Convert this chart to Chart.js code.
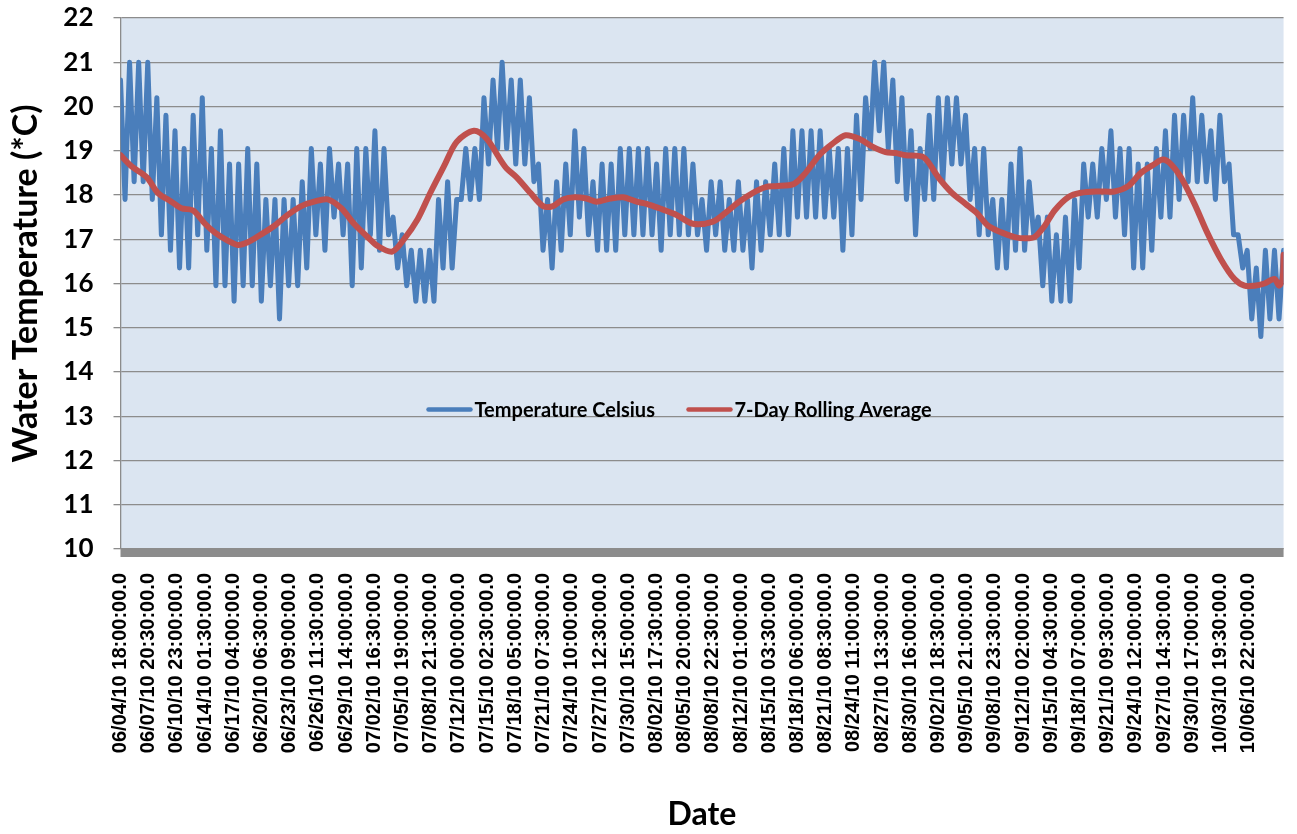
<!DOCTYPE html>
<html>
<head>
<meta charset="utf-8">
<script src="https://cdn.jsdelivr.net/npm/chart.js@4.4.1/dist/chart.umd.min.js"></script>
<style>
  html, body { margin: 0; padding: 0; background: #ffffff; }
  #wrap { width: 1297px; height: 834px; }
</style>
</head>
<body>
<div id="wrap"><canvas id="c" width="1297" height="834"></canvas></div>
<script>
// ---- Data ----
// Category tick labels, one every 74.5 hours starting 06/04/10 18:00
const dateLabels = [
  "06/04/10 18:00:00.0","06/07/10 20:30:00.0","06/10/10 23:00:00.0","06/14/10 01:30:00.0",
  "06/17/10 04:00:00.0","06/20/10 06:30:00.0","06/23/10 09:00:00.0","06/26/10 11:30:00.0",
  "06/29/10 14:00:00.0","07/02/10 16:30:00.0","07/05/10 19:00:00.0","07/08/10 21:30:00.0",
  "07/12/10 00:00:00.0","07/15/10 02:30:00.0","07/18/10 05:00:00.0","07/21/10 07:30:00.0",
  "07/24/10 10:00:00.0","07/27/10 12:30:00.0","07/30/10 15:00:00.0","08/02/10 17:30:00.0",
  "08/05/10 20:00:00.0","08/08/10 22:30:00.0","08/12/10 01:00:00.0","08/15/10 03:30:00.0",
  "08/18/10 06:00:00.0","08/21/10 08:30:00.0","08/24/10 11:00:00.0","08/27/10 13:30:00.0",
  "08/30/10 16:00:00.0","09/02/10 18:30:00.0","09/05/10 21:00:00.0","09/08/10 23:30:00.0",
  "09/12/10 02:00:00.0","09/15/10 04:30:00.0","09/18/10 07:00:00.0","09/21/10 09:30:00.0",
  "09/24/10 12:00:00.0","09/27/10 14:30:00.0","09/30/10 17:00:00.0","10/03/10 19:30:00.0",
  "10/06/10 22:00:00.0"
];
const labelStepHours = 74.5;
const totalHours = 3072;

// Evening (18:00) highs, one per day from 06/04/10
const dailyHighs = [
  20.6,21.0,21.0,21.0,20.2,19.8,19.45,19.05,19.8,20.2,
  19.05,19.45,18.7,18.7,19.05,18.7,17.9,17.9,17.9,17.9,
  18.3,19.05,18.7,19.05,18.7,18.7,19.05,19.05,19.45,19.05,
  17.5,17.1,16.75,16.75,16.75,17.9,18.3,17.9,19.05,19.05,
  20.2,20.6,21.0,20.6,20.6,20.2,18.7,17.9,18.3,18.7,
  19.45,19.05,18.3,18.7,18.7,19.05,19.05,19.05,19.05,18.7,
  19.05,19.05,19.05,18.7,17.9,18.3,18.3,17.9,18.3,17.9,
  18.3,18.3,18.7,19.05,19.45,19.45,19.45,19.45,19.05,19.05,
  19.05,19.8,20.2,21.0,21.0,20.6,20.2,19.45,19.05,19.8,
  20.2,20.2,20.2,19.8,19.05,19.05,17.9,17.9,18.7,19.05,
  18.3,17.5,17.5,17.1,17.5,17.9,18.7,18.7,19.05,19.45,
  19.05,19.05,18.7,18.7,19.05,19.45,19.8,19.8,20.2,19.8,
  19.45,19.8,18.7,17.1,16.75,16.35,16.75,16.75,16.75
];
// Morning (06:00) lows, one per day
const dailyLows = [
  17.9,18.3,18.3,17.9,17.1,16.75,16.35,16.35,17.1,16.75,
  15.95,15.95,15.6,15.95,15.95,15.6,15.95,15.2,15.95,15.95,
  16.35,17.1,16.75,17.5,17.1,15.95,16.35,17.1,16.75,17.1,
  16.35,15.95,15.6,15.6,15.6,16.35,16.35,17.9,17.9,17.9,
  18.7,19.05,19.05,18.7,18.7,18.3,16.75,16.35,16.75,17.1,
  17.5,17.1,16.75,16.75,16.75,17.1,17.1,17.1,17.1,16.75,
  17.1,17.1,17.1,17.1,16.75,17.1,16.75,16.75,16.75,16.35,
  16.75,17.1,17.1,17.1,17.5,17.5,17.5,17.5,17.5,16.75,
  17.1,17.9,19.05,19.45,19.05,18.3,17.9,17.1,17.9,17.9,
  18.3,18.7,18.7,17.9,17.1,17.1,16.35,16.35,16.75,16.75,
  17.1,15.95,15.6,15.6,15.6,16.35,17.5,17.5,17.9,17.5,
  17.1,16.35,16.35,16.75,17.5,17.5,17.9,18.3,18.3,18.3,
  17.9,18.3,17.1,16.35,15.2,14.8,15.2,15.2
];

// 7-day rolling average: sample day (from 06/04/10 18:00) and value
const avgDays = [
  0,1.2,2.9,4.1,5.6,6.7,8.0,9.3,10.4,11.8,12.9,14.0,15.4,16.9,18.4,19.9,21.3,22.8,24.3,25.7,
  27.2,28.3,29.9,31.2,32.7,34.1,35.6,37.0,38.9,40.3,41.8,42.5,43.6,45.1,46.5,47.6,48.7,50.0,51.3,52.4,
  53.9,55.3,56.8,57.9,59.3,61.2,63.0,65.2,66.6,68.1,69.6,71.0,72.1,74.1,75.4,76.9,78.3,79.8,81.3,82.7,
  84.2,85.3,86.4,88.4,90.0,91.5,93.0,94.2,95.5,97.0,98.4,99.5,100.6,101.7,102.8,104.3,105.7,107.6,109.4,110.9,
  112.3,113.8,114.7,115.6,116.7,118.2,119.6,121.1,122.6,123.7,124.8,125.9,127.0,127.5,127.9,128.0
];
const avgValues = [
  18.9,18.65,18.4,18.05,17.85,17.7,17.65,17.35,17.15,16.97,16.87,16.93,17.1,17.3,17.55,17.75,17.85,17.9,17.7,17.35,
  17.05,16.85,16.72,17.0,17.45,18.05,18.65,19.2,19.45,19.27,18.8,18.6,18.4,18.05,17.75,17.75,17.9,17.95,17.92,17.85,
  17.92,17.95,17.85,17.8,17.7,17.55,17.35,17.4,17.6,17.85,18.05,18.18,18.2,18.25,18.5,18.9,19.15,19.35,19.27,19.1,
  18.97,18.95,18.9,18.85,18.4,18.05,17.8,17.6,17.3,17.15,17.05,17.02,17.05,17.3,17.65,17.95,18.05,18.08,18.08,18.2,
  18.5,18.7,18.8,18.7,18.4,17.8,17.15,16.55,16.1,15.95,15.95,16.0,16.1,15.95,16.1,16.65
];

const seriesNames = ["Temperature Celsius", "7-Day Rolling Average"];
const seriesColors = ["#4a7ebb", "#c0504d"];

// ---- Build datasets from the arrays ----
const tempPoints = [];
for (let d = 0; d < dailyHighs.length; d++) {
  tempPoints.push({ x: d * 24, y: dailyHighs[d] });
  if (d < dailyLows.length) tempPoints.push({ x: d * 24 + 12, y: dailyLows[d] });
}
const avgPoints = avgDays.map((d, i) => ({ x: d * 24, y: avgValues[i] }));

const plotBg = {
  id: 'plotBg',
  beforeDraw(chart) {
    const { ctx, chartArea: a } = chart;
    ctx.save();
    ctx.fillStyle = '#dbe5f1';
    ctx.fillRect(a.left, a.top, a.right - a.left, a.bottom - a.top);
    ctx.restore();
  },
  afterDraw(chart) {
    const { ctx, chartArea: a } = chart;
    ctx.save();
    ctx.fillStyle = '#8c8c8c';
    ctx.fillRect(a.left, a.bottom - 1, a.right - a.left, 9);
    // legend inside the plot
    const yPix = chart.scales.y.getPixelForValue(13.15);
    const starts = [a.left + 308, a.left + 568];
    ctx.font = 'bold 20px Lato';
    ctx.textBaseline = 'middle';
    ctx.textAlign = 'left';
    chart.data.datasets.forEach((ds, i) => {
      const x0 = starts[i];
      ctx.strokeStyle = ds.borderColor;
      ctx.lineWidth = 4.5;
      ctx.lineCap = 'round';
      ctx.beginPath();
      ctx.moveTo(x0, yPix);
      ctx.lineTo(x0 + 42, yPix);
      ctx.stroke();
      ctx.fillStyle = '#000';
      ctx.fillText(ds.label, x0 + 46, yPix + 1);
    });
    ctx.restore();
  }
};

new Chart(document.getElementById('c'), {
  type: 'line',
  data: {
    datasets: [
      { label: seriesNames[0], data: tempPoints, borderColor: seriesColors[0], borderWidth: 5,
        pointRadius: 0, tension: 0, borderJoinStyle: 'round', borderCapStyle: 'round', order: 2 },
      { label: seriesNames[1], data: avgPoints, borderColor: seriesColors[1], borderWidth: 6,
        pointRadius: 0, tension: 0.3, borderJoinStyle: 'round', borderCapStyle: 'round', order: 1 }
    ]
  },
  options: {
    responsive: false,
    animation: false,
    layout: { padding: { left: 0, right: 9, top: 18, bottom: 0 } },
    plugins: { legend: { display: false }, tooltip: { enabled: false } },
    scales: {
      x: {
        type: 'linear', min: 0, max: totalHours,
        afterBuildTicks: (s) => { s.ticks = dateLabels.map((_, i) => ({ value: i * labelStepHours })); },
        afterFit: (s) => { s.height = 285; },
        ticks: {
          autoSkip: false, minRotation: 90, maxRotation: 90, padding: 24,
          callback: (v, i) => dateLabels[i],
          font: { family: 'Liberation Sans', size: 20, weight: 'bold' }, color: '#000'
        },
        grid: { display: false, drawTicks: false },
        border: { display: false },
        title: { display: true, text: 'Date', color: '#000',
          font: { family: 'Lato', weight: 'bold', size: 32 }, padding: { top: 0, bottom: 0 } }
      },
      y: {
        min: 10, max: 22,
        afterFit: (s) => { s.width = 120.5; s.paddingTop = 0; s.paddingBottom = 0; },
        ticks: { stepSize: 1, padding: 20, color: '#000',
          font: { family: 'Lato', weight: 'bold', size: 26 } },
        grid: { color: '#8c8c8c', lineWidth: 1.3, tickLength: 7 },
        border: { color: '#8c8c8c', width: 1.3 },
        title: { display: true, text: 'Water Temperature (*C)', color: '#000',
          font: { family: 'Lato', weight: 'bold', size: 34 }, padding: { top: 6, bottom: 0 } }
      }
    }
  },
  plugins: [plotBg]
});
</script>
</body>
</html>
